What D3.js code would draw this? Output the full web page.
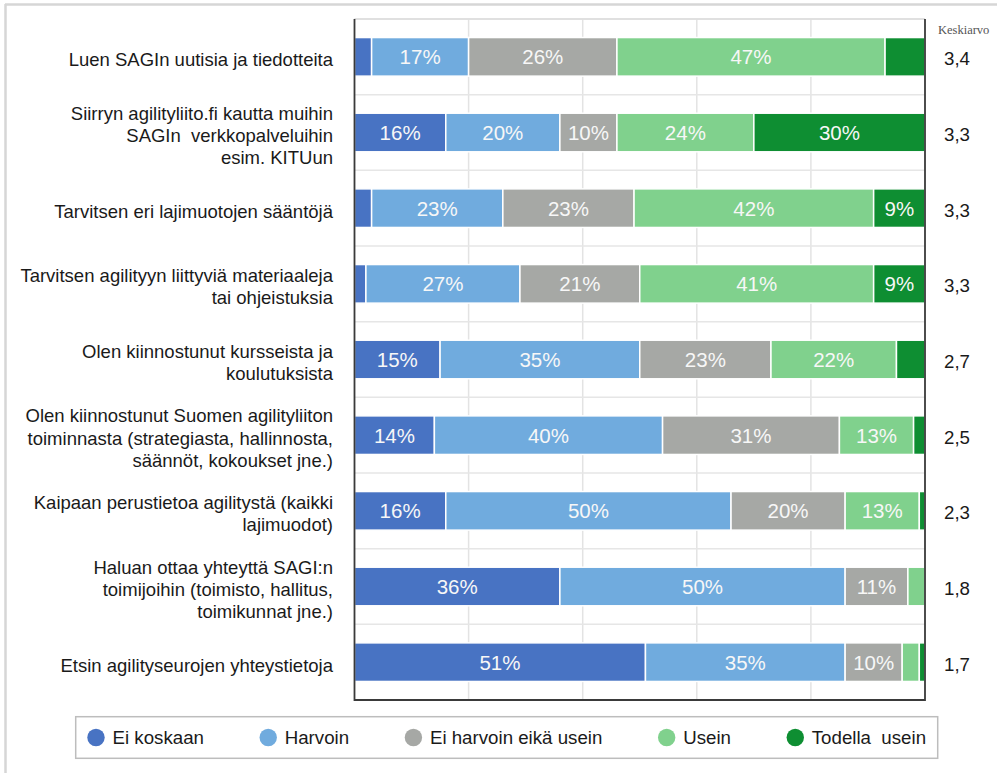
<!DOCTYPE html>
<html>
<head>
<meta charset="utf-8">
<script src="https://cdn.jsdelivr.net/npm/d3@7"></script>
<style>
  body { margin: 0; background: #fff; }
  svg { display: block; font-family: "Liberation Sans", Arial, sans-serif; }
</style>
</head>
<body>
<svg id="chart"></svg>
<script>
// statements (multi-line labels split on "\n")
const categories = [
    "Luen SAGIn uutisia ja tiedotteita",
    "Siirryn agilityliito.fi kautta muihin\nSAGIn  verkkopalveluihin\nesim. KITUun",
    "Tarvitsen eri lajimuotojen sääntöjä",
    "Tarvitsen agilityyn liittyviä materiaaleja\ntai ohjeistuksia",
    "Olen kiinnostunut kursseista ja\nkoulutuksista",
    "Olen kiinnostunut Suomen agilityliiton\ntoiminnasta (strategiasta, hallinnosta,\nsäännöt, kokoukset jne.)",
    "Kaipaan perustietoa agilitystä (kaikki\nlajimuodot)",
    "Haluan ottaa yhteyttä SAGI:n\ntoimijoihin (toimisto, hallitus,\ntoimikunnat jne.)",
    "Etsin agilityseurojen yhteystietoja"
];

const seriesNames = ["Ei koskaan", "Harvoin", "Ei harvoin eikä usein", "Usein", "Todella  usein"];

// percentages per answer, one array per series
const eiKoskaan   = [3, 16, 3, 2, 15, 14, 16, 36, 51];
const harvoin     = [17, 20, 23, 27, 35, 40, 50, 50, 35];
const eiHarvoin   = [26, 10, 23, 21, 23, 31, 20, 11, 10];
const usein       = [47, 24, 42, 41, 22, 13, 13, 3, 3];
const todellaUsein = [7, 30, 9, 9, 5, 2, 1, 0, 1];

const means = ["3,4", "3,3", "3,3", "3,3", "2,7", "2,5", "2,3", "1,8", "1,7"];
const xTicks = [0, 20, 40, 60, 80, 100];

const colors = ["#4873c3", "#70abde", "#a6a8a5", "#80d18d", "#0e8e32"];

const width = 997, height = 773;
const margin = {top: 19, right: 72, bottom: 73, left: 354.5};

const svg = d3.select("#chart")
    .attr("width", width)
    .attr("height", height);

// outer frame (only top/left visible in the picture)
svg.append("line").attr("x1", 5).attr("x2", width).attr("y1", 4.5).attr("y2", 4.5)
    .attr("stroke", "#d6d6d6").attr("stroke-width", 2.5);
svg.append("line").attr("x1", 5.5).attr("x2", 5.5).attr("y1", 4).attr("y2", height)
    .attr("stroke", "#d6d6d6").attr("stroke-width", 2.5);

const x = d3.scaleLinear()
    .domain([0, 100])
    .range([margin.left, width - margin.right]);

const y = d3.scaleBand()
    .domain(categories)
    .range([margin.top, height - margin.bottom])
    .paddingInner(0.49)
    .paddingOuter(0.245);

// build rows for stacking
const series = [eiKoskaan, harvoin, eiHarvoin, usein, todellaUsein];
const rows = categories.map((c, i) => {
    let row = {category: c};
    seriesNames.forEach((s, j) => row[s] = series[j][i]);
    return row;
});
const stacked = d3.stack().keys(seriesNames)(rows);

// gridlines
const grid = svg.append("g");
grid.selectAll(".vgrid")
    .data(xTicks.slice(1, -1))
    .join("line")
    .attr("x1", d => x(d)).attr("x2", d => x(d))
    .attr("y1", margin.top).attr("y2", height - margin.bottom)
    .attr("stroke", "#e3e3e3").attr("stroke-width", 1.5);

const step = y.step();
grid.selectAll(".hgrid")
    .data(d3.range(categories.length + 1))
    .join("line")
    .attr("x1", x(0)).attr("x2", x(100))
    .attr("y1", d => margin.top + d * step).attr("y2", d => margin.top + d * step)
    .attr("stroke", "#e6e6e6").attr("stroke-width", 1.5);

// bars
const layers = svg.append("g").selectAll("g")
    .data(stacked)
    .join("g")
    .attr("fill", (d, i) => colors[i]);

layers.selectAll("rect")
    .data(d => d.filter(p => p[1] - p[0] > 0))
    .join("rect")
    .attr("x", d => x(d[0]))
    .attr("y", d => y(d.data.category))
    .attr("width", d => x(d[1]) - x(d[0]))
    .attr("height", y.bandwidth())
    .attr("stroke", "#fff")
    .attr("stroke-width", 1.5);

// value labels
layers.selectAll("text")
    .data(d => d.filter(p => p[1] - p[0] >= 8))
    .join("text")
    .attr("x", d => (x(d[0]) + x(d[1])) / 2)
    .attr("y", d => y(d.data.category) + y.bandwidth() / 2)
    .attr("dy", "0.36em")
    .attr("text-anchor", "middle")
    .attr("fill", "#f7f7f7")
    .style("font-size", "20.5px")
    .text(d => (d[1] - d[0]) + "%");

// plot frame
svg.append("line").attr("x1", x(0)).attr("x2", x(100)).attr("y1", margin.top).attr("y2", margin.top)
    .attr("stroke", "#dcdcdc").attr("stroke-width", 1.5);
svg.append("path")
    .attr("d", `M${x(0)},${margin.top}V${height - margin.bottom}H${x(100)}V${margin.top}`)
    .attr("fill", "none")
    .attr("stroke", "#3a3a3a")
    .attr("stroke-width", 1.8);

// category labels
const labels = svg.append("g").selectAll("text")
    .data(categories)
    .join("text")
    .attr("text-anchor", "end")
    .attr("fill", "#1a1a1a")
    .style("font-size", "18.5px")
    .attr("transform", d => `translate(333,${y(d) + y.bandwidth() / 2 + 3})`);

labels.each(function (d) {
    const lines = d.split("\n");
    const lh = 22.3;
    d3.select(this).selectAll("tspan")
        .data(lines)
        .join("tspan")
        .attr("x", 0)
        .attr("y", (l, i) => (i - (lines.length - 1) / 2) * lh)
        .attr("dy", "0.35em")
        .attr("xml:space", "preserve")
        .text(l => l);
});

// mean column
svg.append("text")
    .attr("x", 938)
    .attr("y", 29.5)
    .attr("dy", "0.35em")
    .attr("fill", "#555")
    .style("font-family", "'Liberation Serif', 'Times New Roman', serif")
    .style("font-size", "12.5px")
    .text("Keskiarvo");

svg.append("g").selectAll("text")
    .data(means)
    .join("text")
    .attr("x", 944)
    .attr("y", (d, i) => y(categories[i]) + y.bandwidth() / 2 + 2)
    .attr("dy", "0.35em")
    .attr("fill", "#1a1a1a")
    .style("font-size", "18.7px")
    .text(d => d);

// legend
const legendY = 737.5;
svg.append("rect")
    .attr("x", 75.7).attr("y", 716.7)
    .attr("width", 862).attr("height", 41.6)
    .attr("fill", "#fff")
    .attr("stroke", "#bdbdbd")
    .attr("stroke-width", 1.5);

let lx = 96;
seriesNames.forEach((name, i) => {
    svg.append("circle")
        .attr("cx", lx).attr("cy", legendY)
        .attr("r", 8.7)
        .attr("fill", colors[i]);
    const t = svg.append("text")
        .attr("x", lx + 16.5)
        .attr("y", legendY)
        .attr("dy", "0.35em")
        .attr("fill", "#1a1a1a")
        .attr("xml:space", "preserve")
        .style("font-size", "18.7px")
        .text(name);
    lx += 16.5 + t.node().getComputedTextLength() + 64.3;
});
</script>
</body>
</html>
